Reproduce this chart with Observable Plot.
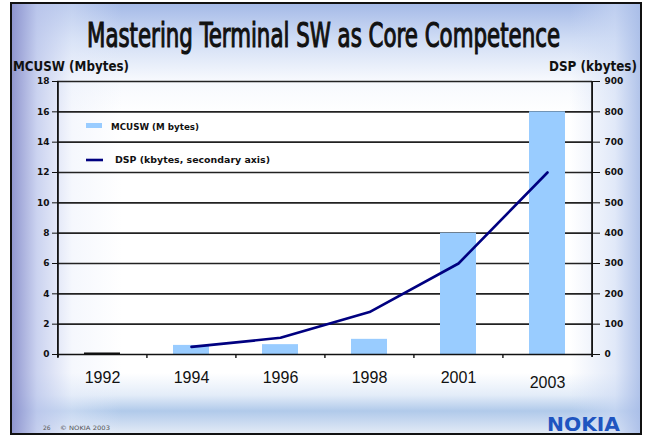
<!DOCTYPE html>
<html><head><meta charset="utf-8">
<script src="https://cdn.jsdelivr.net/npm/d3@7"></script>
<script src="https://cdn.jsdelivr.net/npm/@observablehq/plot@0.6"></script>
<style>
html,body{margin:0;padding:0;background:#fff;}
#slide{position:relative;width:651px;height:438px;overflow:hidden;}
#bg{position:absolute;left:10px;top:2px;width:628px;height:429px;border:2.5px solid #111;
  background:
   linear-gradient(to right, rgba(140,146,205,0.95) 0px, rgba(190,200,236,0.8) 25px, rgba(230,236,250,0.4) 60px, rgba(255,255,255,0) 110px),
   linear-gradient(to left, rgba(170,190,232,0.9) 0px, rgba(205,218,244,0.6) 25px, rgba(255,255,255,0) 70px),
   linear-gradient(to bottom, rgba(160,182,230,0.95) 0px, rgba(196,212,242,0.8) 35px, rgba(232,238,250,0.4) 75px, rgba(255,255,255,0) 110px),
   linear-gradient(to top, rgba(226,234,246,1) 0px, rgba(168,196,232,0.9) 22px, rgba(200,218,242,0.5) 38px, rgba(255,255,255,0) 60px),
   #ffffff;}
#chart{position:absolute;left:0;top:0;}
#overlay{position:absolute;left:0;top:0;}
</style>
</head><body>
<div id="slide">
  <div id="bg"></div>
  <div id="chart"></div>
  <svg id="overlay" width="651" height="438" xmlns="http://www.w3.org/2000/svg">
    <text transform="translate(87,47) scale(0.72,1)" x="0" y="0" font-family="DejaVu Sans Condensed" font-weight="normal" font-size="33" fill="#111" stroke="#111" stroke-width="1.1" textLength="657" lengthAdjust="spacingAndGlyphs">Mastering Terminal SW as Core Competence</text>
    <text x="13" y="71" font-family="DejaVu Sans Condensed" font-weight="bold" font-size="13.5" fill="#111" textLength="116" lengthAdjust="spacingAndGlyphs">MCUSW (Mbytes)</text>
    <text x="549" y="71" font-family="DejaVu Sans Condensed" font-weight="bold" font-size="13.5" fill="#111" textLength="88" lengthAdjust="spacingAndGlyphs">DSP (kbytes)</text>
    <rect x="86" y="123" width="16" height="5" fill="#99ccff"></rect>
    <text x="111" y="129.5" font-family="DejaVu Sans" font-weight="bold" font-size="9.5" fill="#111" textLength="88" lengthAdjust="spacingAndGlyphs">MCUSW (M bytes)</text>
    <line x1="86" x2="103" y1="160" y2="160" stroke="#000080" stroke-width="2.6"></line>
    <text x="115" y="163" font-family="DejaVu Sans" font-weight="bold" font-size="9.5" fill="#111" textLength="155" lengthAdjust="spacingAndGlyphs">DSP (kbytes, secondary axis)</text>
    <text x="43" y="430" font-family="DejaVu Sans" font-size="6" fill="#555">26</text>
    <text x="60" y="430" font-family="DejaVu Sans" font-size="6" fill="#555" textLength="50" lengthAdjust="spacingAndGlyphs">© NOKIA 2003</text>
    <text x="547" y="431" font-family="DejaVu Sans" font-weight="bold" font-size="19" fill="#1f55c0" textLength="73" lengthAdjust="spacingAndGlyphs">NOKIA</text>
  </svg>
</div>
<script>
const years = ["1992", "1994", "1996", "1998", "2001", "2003"];
const mcuswMbytes = [0.1, 0.6, 0.65, 1.0, 8, 16];
const dspKbytes = [null, 25, 55, 140, 300, 600];
const leftTicks = [0, 2, 4, 6, 8, 10, 12, 14, 16, 18];
const rightTicks = [0, 100, 200, 300, 400, 500, 600, 700, 800, 900];
const ratio = 50; // secondary axis: kbytes per primary unit

const table = years.map((y, i) => ({year: y, mcusw: mcuswMbytes[i], dsp: dspKbytes[i]}));
const half = 535 / years.length / 2;

const plot = Plot.plot({
  width: 651, height: 438,
  marginLeft: 57, marginRight: 59, marginTop: 81, marginBottom: 84,
  style: {background: "transparent", fontFamily: "DejaVu Sans", overflow: "visible", color: "#111"},
  x: {domain: years, paddingInner: 0.6, paddingOuter: 0.3, axis: null},
  y: {domain: [0, 18], axis: null},
  marks: [
    Plot.ruleY(leftTicks.filter(d => d > 0), {stroke: "#222", strokeWidth: 1.6}),
    Plot.barY(table.filter(d => d.mcusw >= 0.2), {x: "year", y: "mcusw", fill: "#99ccff"}),
    Plot.barY(table.filter(d => d.mcusw < 0.2), {x: "year", y: "mcusw", fill: "#111"}),
    Plot.lineY(table.filter(d => d.dsp != null), {x: "year", y: d => d.dsp / ratio, stroke: "#000080", strokeWidth: 2.6}),
    Plot.ruleY([0], {stroke: "#111", strokeWidth: 1.6}),
    Plot.ruleX(years, {x: d => d, dx: -half, insetTop: 273, insetBottom: -4, stroke: "#111", strokeWidth: 1.4}),
    Plot.ruleX([years[0]], {x: d => d, dx: -half, insetBottom: -3, stroke: "#111", strokeWidth: 1.8}),
    Plot.ruleX([years[years.length - 1]], {x: d => d, dx: half, insetBottom: -3, stroke: "#111", strokeWidth: 1.8}),
    Plot.axisY({anchor: "left", ticks: leftTicks, tickSize: 5, tickPadding: 3, fontSize: 9, fontWeight: "bold", label: null, stroke: "#111"}),
    Plot.axisY({anchor: "right", ticks: rightTicks.map(v => v / ratio), tickFormat: d => Math.round(d * ratio), tickSize: 7, tickPadding: 5, fontSize: 9, fontWeight: "bold", label: null, stroke: "#111"}),
    Plot.axisX(years.slice(0, 5), {anchor: "bottom", tickSize: 0, tickPadding: 17, fontSize: 16, fontFamily: "Liberation Sans", label: null}),
    Plot.axisX(years.slice(5), {anchor: "bottom", tickSize: 0, tickPadding: 22, fontSize: 16, fontFamily: "Liberation Sans", label: null})
  ]
});
document.getElementById("chart").appendChild(plot);
</script>
</body></html>
